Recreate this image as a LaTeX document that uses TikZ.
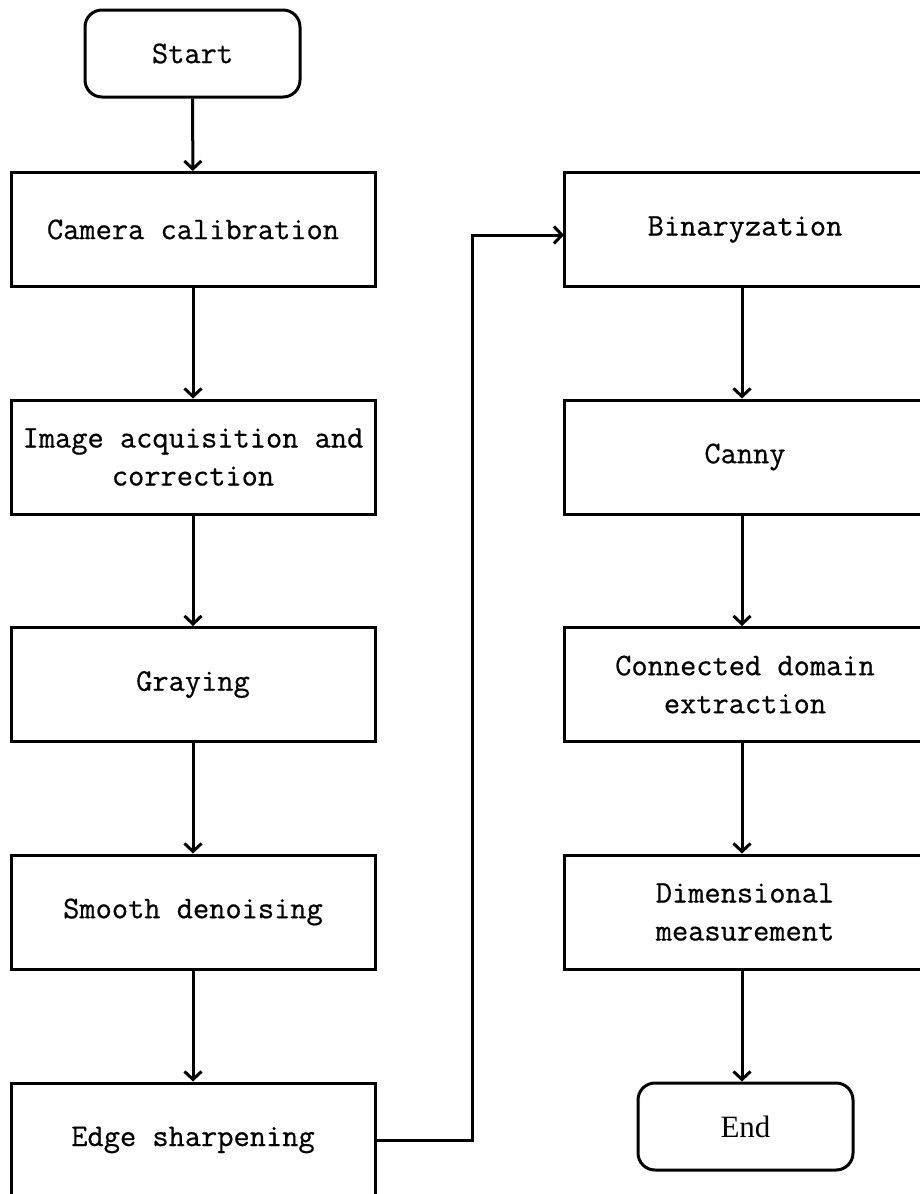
\documentclass[tikz,border=0pt]{standalone}
\usepackage{fontspec}
\newfontfamily\endfont{Liberation Serif}
\newfontfamily\boxfont{Latin Modern Mono}[FakeBold=0.6]
\usetikzlibrary{arrows.meta}
\tikzset{
  boxtext/.style={font=\fontsize{31.5}{38}\selectfont\boxfont, align=center},
  procbox/.style={draw=black, line width=3pt, minimum width=364pt, minimum height=114pt,
    inner sep=0pt, boxtext},
  termbox/.style={draw=black, line width=3pt, rounded corners=17pt, minimum width=215pt,
    minimum height=87pt, inner sep=0pt, align=center},
  flow/.style={draw=black, line width=3pt, -{Straight Barb[length=8pt,width=17pt,line width=3pt]}}
}
\begin{document}
\begin{tikzpicture}[x=1pt,y=-1pt]
\useasboundingbox (0,0) rectangle (920,1194);
\node[termbox, boxtext] (start) at (192.5,53.5) {Start};
\node[procbox] (cam) at (193,229.5) {Camera calibration};
\node[procbox] (acq) at (193,457) {Image acquisition and\\correction};
\node[procbox] (gray) at (193,684.5) {Graying};
\node[procbox] (smooth) at (193,912) {Smooth denoising};
\node[procbox] (edge) at (193,1140) {Edge sharpening};
\node[procbox] (bin) at (746,229.5) {};
\node[boxtext] (binlabel) at (745,229.5) {Binaryzation};
\node[procbox] (canny) at (746,457) {};
\node[boxtext] (cannylabel) at (745,457) {Canny};
\node[procbox] (conn) at (746,684.5) {};
\node[boxtext] (connlabel) at (745,684.5) {Connected domain\\extraction};
\node[procbox] (dim) at (746,912) {};
\node[boxtext] (dimlabel) at (745,912) {Dimensional\\measurement};
\node[termbox, font=\fontsize{31}{38}\selectfont\endfont] (end) at (745.5,1126.5) {End};
\coordinate (turn) at (472,1140);
\coordinate (binin) at (564,235);
\draw[flow] (start) -- (cam);
\draw[flow] (cam) -- (acq);
\draw[flow] (acq) -- (gray);
\draw[flow] (gray) -- (smooth);
\draw[flow] (smooth) -- (edge);
\draw[flow] (edge.east) -- (turn) |- (binin);
\draw[flow] (bin.south -| 742,0) -- (canny.north -| 742,0);
\draw[flow] (canny.south -| 742,0) -- (conn.north -| 742,0);
\draw[flow] (conn.south -| 742,0) -- (dim.north -| 742,0);
\draw[flow] (dim.south -| 742,0) -- (end.north -| 742,0);
\end{tikzpicture}
\end{document}
